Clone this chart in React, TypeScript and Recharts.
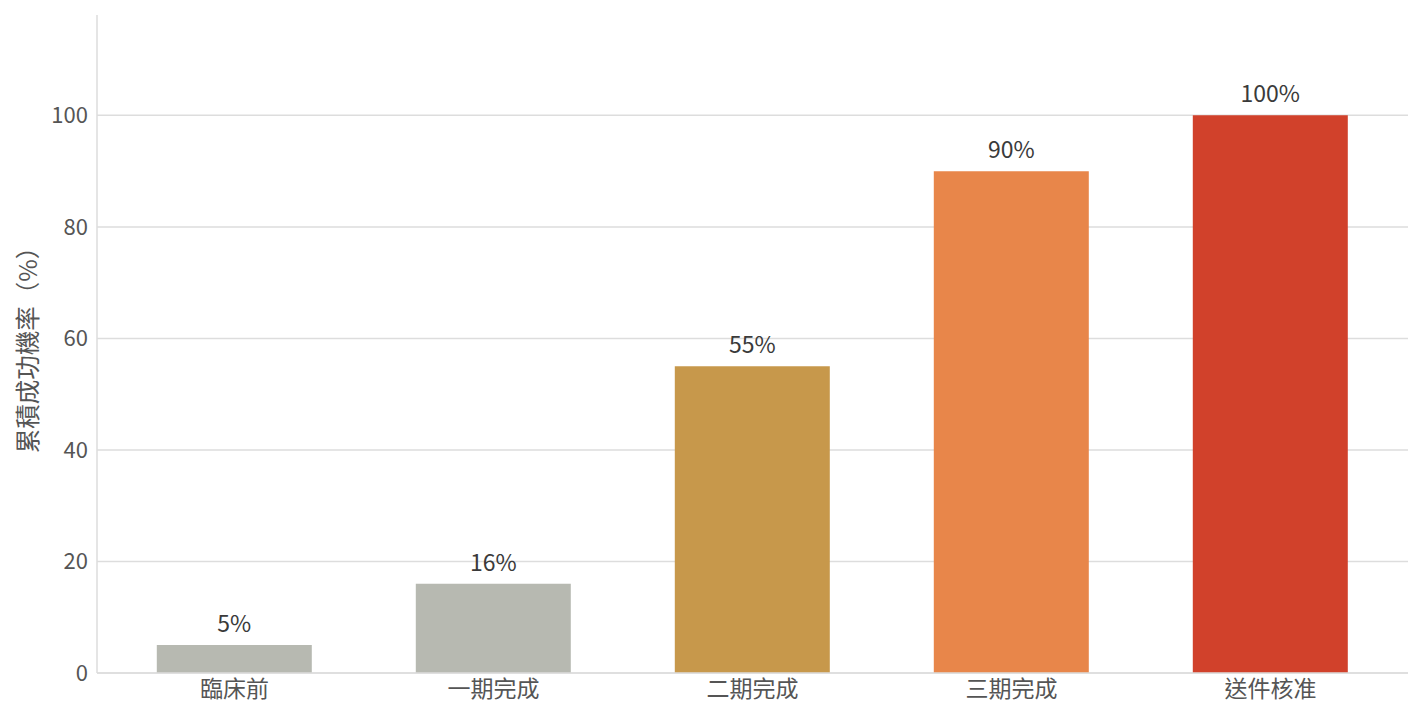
import React from 'react';
import { BarChart, Bar, XAxis, YAxis, CartesianGrid, LabelList, Cell } from 'recharts';

const phases = ['臨床前', '一期完成', '二期完成', '三期完成', '送件核准'];
const successRates = [5, 16, 55, 90, 100];
const barColors = ['#b7b9b1', '#b7b9b1', '#c7984b', '#e8864a', '#d1412b'];
const yTicks = [0, 20, 40, 60, 80, 100];

const data = phases.map((phase, i) => ({ phase, rate: successRates[i] }));

const font = '"Noto Sans CJK TC", "Noto Sans", sans-serif';

const App: React.FC = () => {
  return (
    <div style={{ position: 'absolute', left: 0, top: 0, fontFamily: font }}>
      <BarChart
        width={1423}
        height={720}
        data={data}
        margin={{ top: 15, right: 15, bottom: 11, left: 7 }}
        barCategoryGap="20%"
      >
        <CartesianGrid vertical={false} horizontalValues={yTicks} stroke="#dddddd" strokeWidth={1.5} />
        <XAxis
          dataKey="phase"
          stroke="#dddddd"
          strokeWidth={1.5}
          tickLine={false}
          padding={{ left: 8, right: 8 }}
          tick={{ fill: '#555555', fontSize: 23, fontFamily: font }}
          tickMargin={2}
          height={36}
        />
        <YAxis
          domain={[0, 118]}
          ticks={yTicks}
          stroke="#dddddd"
          strokeWidth={1.5}
          tickLine={false}
          tick={{ fill: '#555555', fontSize: 22, fontFamily: font }}
          tickMargin={3}
          width={90}
          label={{
            value: '累積成功機率（%）',
            angle: -90,
            position: 'insideLeft',
            offset: 21,
            style: { fill: '#555555', fontSize: 24.5, fontFamily: font, textAnchor: 'middle' },
          }}
        />
        <Bar dataKey="rate" isAnimationActive={false}>
          {data.map((d, i) => (
            <Cell key={d.phase} fill={barColors[i]} />
          ))}
          <LabelList
            dataKey="rate"
            position="top"
            offset={13}
            formatter={(v: number) => `${v}%`}
            style={{ fill: '#3a3a3a', fontSize: 23, fontFamily: font }}
          />
        </Bar>
      </BarChart>
    </div>
  );
};

export default App;
